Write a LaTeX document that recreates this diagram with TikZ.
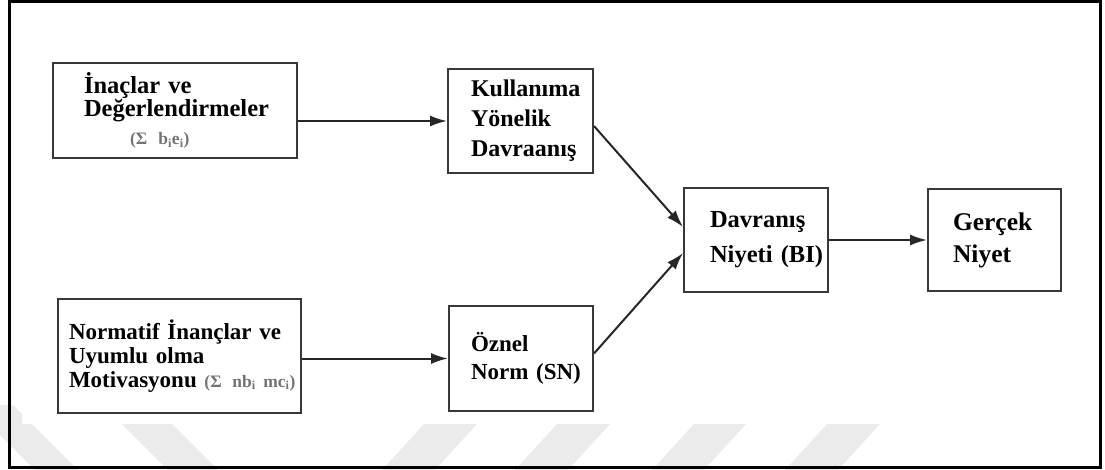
\documentclass[tikz,border=0pt]{standalone}
\usepackage{fontspec}
\setmainfont{Liberation Serif}
\usetikzlibrary{arrows.meta}
% small grey summation terms under the box titles
\newcommand\sumterm[1]{{\color{black!55}\fontsize{17.5}{17}\selectfont #1}}
\begin{document}
\begin{tikzpicture}[x=1pt,y=-1pt,
  box/.style={draw=black!78, line width=2pt, rectangle, inner sep=0pt,
    align=left, anchor=north west, text=black},
  arr/.style={draw=black!85, line width=2pt, -{Latex[length=17pt,width=11pt]}},
  wm/.style={fill=black!8},
]
\useasboundingbox (0,0) rectangle (1105,470);

% light diagonal bands along the bottom edge
\begin{scope}
  \clip (0,424) rectangle (1105,470) (0,405) rectangle (22,424);
  \fill[wm] (-35,400) -- (8,400) -- (78,470) -- (35,470) -- cycle;
  \fill[wm] (122,424) -- (172,424) -- (218,470) -- (168,470) -- cycle;
  \fill[wm] (424,424) -- (477,424) -- (435,470) -- (382,470) -- cycle;
  \fill[wm] (557,424) -- (610,424) -- (568,470) -- (515,470) -- cycle;
  \fill[wm] (694,424) -- (746,424) -- (704,470) -- (652,470) -- cycle;
  \fill[wm] (827,424) -- (880,424) -- (838,470) -- (785,470) -- cycle;
\end{scope}

% outer frame
\draw[line width=3pt] (9,1.5) rectangle (1100,467);

% boxes
\node[box, minimum width=244pt, minimum height=95pt, text width=182pt,
  font=\bfseries\fontsize{24.5}{23}\selectfont] (b1) at (52,62)
  {İnaçlar ve\\Değerlendirmeler\\[5pt]\hspace*{46pt}\mbox{\sumterm{(Σ\, b\textsubscript{i}e\textsubscript{i})}}};

\node[box, minimum width=243pt, minimum height=114pt, text width=221pt,
  font=\bfseries\fontsize{23}{24}\selectfont] (b2) at (57,298)
  {\mbox{Normatif İnançlar ve}\\\mbox{Uyumlu olma}\\\mbox{Motivasyonu \sumterm{(Σ\, nb\textsubscript{i} mc\textsubscript{i})}}};

\node[box, minimum width=145pt, minimum height=104pt, text width=99pt,
  font=\bfseries\fontsize{24}{30}\selectfont] (b3) at (447,68)
  {Kullanıma\\Yönelik\\Davraanış};

\node[box, minimum width=144pt, minimum height=105pt, text width=100pt,
  font=\bfseries\fontsize{23}{28}\selectfont] (b4) at (448,305)
  {Öznel\\\mbox{Norm (SN)}};

\node[box, minimum width=144pt, minimum height=104pt, text width=92pt,
  font=\bfseries\fontsize{24.5}{35}\selectfont] (b5) at (683,187)
  {Davranış\\\mbox{Niyeti (BI)}};

\node[box, minimum width=133pt, minimum height=102pt, text width=83pt,
  font=\bfseries\fontsize{25.5}{32}\selectfont] (b6) at (927,188)
  {Gerçek\\Niyet};

% connectors
\draw[arr] (b3.west -| b1.east) -- (b3.west);
\draw[arr] (b4.west -| b2.east) -- (b4.west);
\draw[arr] ([yshift=-5pt]b3.east) -- ([yshift=13pt]b5.west);
\draw[arr] ([yshift=5pt]b4.east) -- ([yshift=-13pt]b5.west);
\draw[arr] (b5.east) -- (b6.west);
\end{tikzpicture}
\end{document}
